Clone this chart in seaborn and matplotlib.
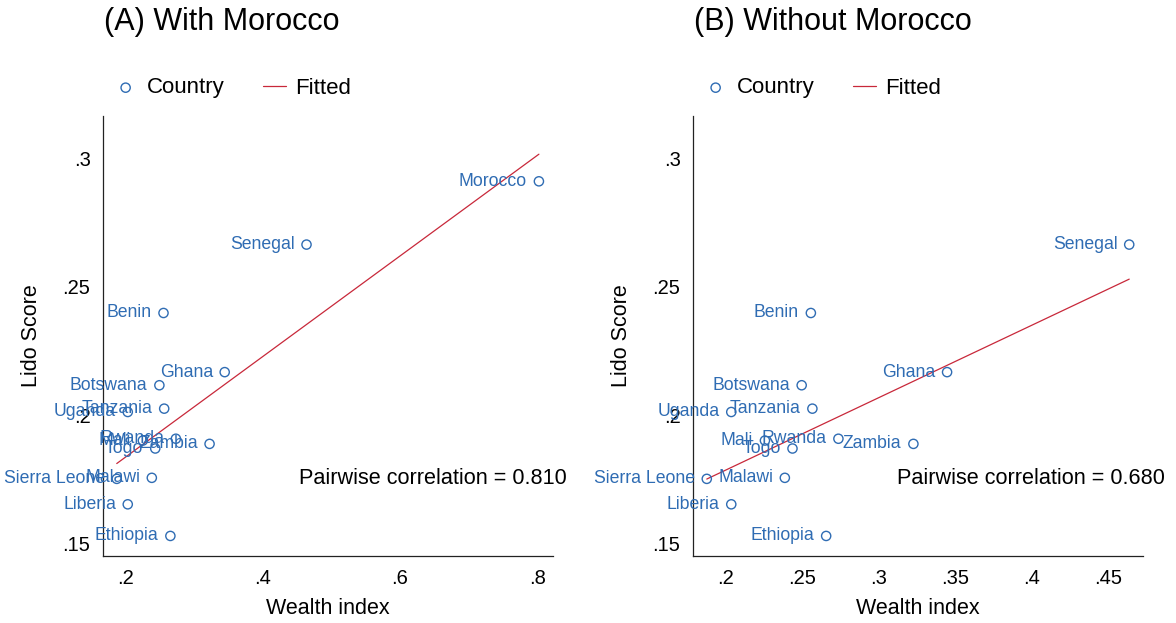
import matplotlib
matplotlib.use("Agg")
import matplotlib.pyplot as plt
import numpy as np
import pandas as pd
import seaborn as sns

# values
countries = ["Morocco", "Senegal", "Benin", "Ghana", "Botswana", "Tanzania", "Uganda",
             "Mali", "Rwanda", "Togo", "Zambia", "Sierra Leone", "Malawi", "Liberia", "Ethiopia"]
wealth = [0.802, 0.464, 0.256, 0.345, 0.250, 0.257, 0.204,
          0.226, 0.274, 0.244, 0.323, 0.188, 0.239, 0.204, 0.266]
lido = [0.291, 0.2664, 0.2398, 0.2168, 0.2117, 0.2026, 0.2013,
        0.1902, 0.1909, 0.1871, 0.1889, 0.1753, 0.1757, 0.1654, 0.1531]

panel_titles = ["(A) With Morocco", "(B) Without Morocco"]
corr_texts = ["Pairwise correlation = 0.810", "Pairwise correlation = 0.680"]
xticks_a = [0.2, 0.4, 0.6, 0.8]
xticklabels_a = [".2", ".4", ".6", ".8"]
xticks_b = [0.2, 0.25, 0.3, 0.35, 0.4, 0.45]
xticklabels_b = [".2", ".25", ".3", ".35", ".4", ".45"]
yticks = [0.15, 0.2, 0.25, 0.3]
yticklabels = [".15", ".2", ".25", ".3"]

BLUE = "#2f6cb3"
RED = "#c8283a"

df = pd.DataFrame({"country": countries, "wealth": wealth, "lido": lido})

sns.set_theme(style="white")
plt.rcParams["font.family"] = ["Liberation Sans", "DejaVu Sans"]

fig = plt.figure(figsize=(11.76, 6.23), dpi=100)
ax_a = fig.add_axes([103 / 1176, 67 / 623, 450 / 1176, 440 / 623])
ax_b = fig.add_axes([693 / 1176, 67 / 623, 450 / 1176, 440 / 623])

panels = [
    (ax_a, df, (0.168, 0.8225), xticks_a, xticklabels_a, 0.4356),
    (ax_b, df[df.country != "Morocco"], (0.179, 0.473), xticks_b, xticklabels_b, 0.453),
]

for i, (ax, d, xlim, xt, xtl, cx) in enumerate(panels):
    sns.regplot(data=d, x="wealth", y="lido", ax=ax, ci=None, truncate=True,
                scatter_kws=dict(s=44, color=BLUE, facecolors="none", linewidths=1.0,
                                 alpha=1, zorder=3),
                line_kws=dict(color=RED, lw=0.9, zorder=2))
    for _, r in d.iterrows():
        ax.annotate(r.country, (r.wealth, r.lido), xytext=(-8.5, 0), textcoords="offset points",
                    ha="right", va="center", color=BLUE, fontsize=12.7, zorder=4)

    ax.set_xlim(*xlim)
    ax.set_ylim(0.1453, 0.3164)
    ax.set_xticks(xt, xtl)
    ax.set_yticks(yticks, yticklabels)
    ax.tick_params(axis="both", length=0, labelsize=14.5, colors="black")
    ax.tick_params(axis="y", pad=9)
    ax.tick_params(axis="x", pad=9)
    for side in ["top", "right"]:
        ax.spines[side].set_visible(False)
    for side in ["left", "bottom"]:
        ax.spines[side].set_color("#222222")
        ax.spines[side].set_linewidth(0.9)

    ax.set_xlabel("Wealth index", fontsize=15.5, color="black")
    ax.set_ylabel("Lido Score", fontsize=15.5, color="black")
    ax.xaxis.set_label_coords(0.5, -0.095)
    ax.yaxis.set_label_coords(-0.135, 0.5)

    ax.text(cx, (556 - 479) / 440, corr_texts[i], transform=ax.transAxes, ha="left",
            va="center", fontsize=15.6, color="black")
    ax.text(0.002, 1 + (116 - 22) / 440, panel_titles[i], transform=ax.transAxes,
            ha="left", va="center", fontsize=22, color="black")

    handles = [ax.collections[0], ax.lines[0]]
    ax.legend(handles, ["Country", "Fitted"], loc="center left",
              bbox_to_anchor=(0.0256, 1 + (116 - 88) / 440), ncol=2,
              frameon=False, fontsize=16, handlelength=1.0, handletextpad=0.45,
              columnspacing=1.75, borderpad=0, borderaxespad=0, scatterpoints=1,
              labelcolor="black")

fig.savefig("out.png", dpi=100, facecolor="white")
